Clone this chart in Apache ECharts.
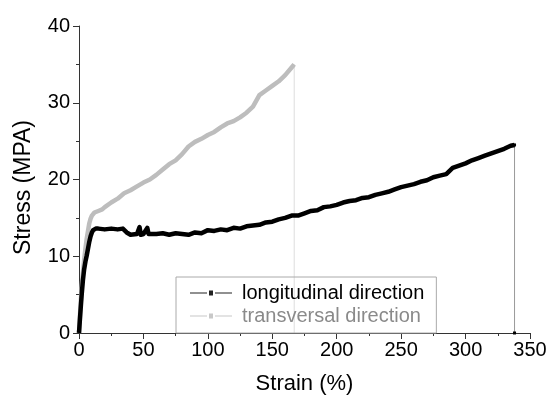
<!DOCTYPE html>
<html><head><meta charset="utf-8">
<script src="https://cdn.jsdelivr.net/npm/echarts@6/dist/echarts.min.js"></script>
<style>html,body{margin:0;padding:0;background:#fff}#c{width:550px;height:400px}</style>
</head><body><div id="c"></div>
<script>
var seriesNames = ['longitudinal direction', 'transversal direction'];
var longitudinal = [[0,0],[1,2.5],[2,4.8],[3,6.8],[4,8.3],[5,9.3],[6,10.1],[7,11],[8,11.9],[9,12.6],[10,13.1],[11,13.4],[13,13.6],[15,13.6],[20,13.5],[25,13.6],[30,13.5],[34,13.6],[37,13.1],[40,12.8],[45,12.9],[47,13.8],[48,12.8],[50,12.9],[53,13.7],[54,12.9],[55,13.0],[60,12.9],[65,13.0],[70,12.8],[75,13.0],[80,12.9],[85,12.8],[90,13.1],[95,13.0],[100,13.4],[105,13.3],[110,13.5],[115,13.4],[120,13.7],[125,13.6],[130,13.9],[135,14.0],[140,14.1],[145,14.4],[150,14.5],[155,14.8],[160,15.0],[165,15.3],[170,15.3],[175,15.6],[180,15.9],[185,16.0],[190,16.4],[195,16.5],[200,16.7],[205,17.0],[210,17.2],[215,17.3],[220,17.6],[225,17.7],[230,18.0],[235,18.2],[240,18.4],[245,18.7],[250,19.0],[255,19.2],[260,19.4],[265,19.7],[270,19.9],[275,20.3],[280,20.5],[285,20.7],[290,21.5],[295,21.8],[300,22.1],[305,22.5],[310,22.8],[315,23.1],[320,23.4],[325,23.7],[330,24.0],[335,24.4],[338,24.5]];
var transversal = [[0,0],[1,3],[2,5.8],[3,7.8],[4,9.5],[5,11],[6,12.3],[7,13.3],[8,14.3],[9,14.9],[10,15.3],[12,15.7],[15,15.9],[18,16.1],[20,16.4],[25,17.0],[30,17.5],[35,18.2],[40,18.6],[45,19.1],[50,19.6],[55,20.0],[60,20.6],[65,21.3],[70,22.0],[75,22.5],[80,23.3],[85,24.3],[90,24.9],[95,25.3],[100,25.8],[105,26.2],[110,26.8],[115,27.3],[120,27.6],[125,28.1],[130,28.7],[135,29.5],[140,31.0],[145,31.6],[150,32.2],[155,32.8],[160,33.6],[165,34.6],[167,35.0]];
var xTicks = [0,50,100,150,200,250,300,350];
var yTicks = [0,10,20,30,40];

function dropOf(arr){ var p = arr[arr.length-1]; return [[p[0],p[1]],[p[0],0]]; }
var font = 'Arial, "Liberation Sans", sans-serif';
var icon = 'path://M0,3.5h17v1h-17z M19,1.5h4v5h-4z M25,3.5h17v1h-17z';

var chart = echarts.init(document.getElementById('c'), null, {renderer:'canvas'});
chart.setOption({
  animation:false,
  backgroundColor:'#fff',
  grid:{left:79, right:20, top:26, bottom:65},
  xAxis:{type:'value', min:xTicks[0], max:xTicks[xTicks.length-1], interval:50,
    name:'Strain (%)', nameLocation:'middle', nameGap:40,
    nameTextStyle:{fontFamily:font, fontSize:22, color:'#000'},
    axisLine:{lineStyle:{color:'#333', width:1}},
    axisTick:{show:true, inside:false, length:6, lineStyle:{color:'#333'}},
    minorTick:{show:true, splitNumber:2, length:3, lineStyle:{color:'#333'}},
    axisLabel:{fontFamily:font, fontSize:20, color:'#000', margin:7},
    splitLine:{show:false}},
  yAxis:{type:'value', min:yTicks[0], max:yTicks[yTicks.length-1], interval:10,
    name:'Stress (MPA)', nameLocation:'middle', nameGap:44, nameRotate:90,
    nameTextStyle:{fontFamily:font, fontSize:23, color:'#000', padding:[0,16,0,0]},
    axisLine:{show:true, lineStyle:{color:'#333', width:1}},
    axisTick:{show:true, inside:false, length:6, lineStyle:{color:'#333'}},
    minorTick:{show:true, splitNumber:2, length:3, lineStyle:{color:'#333'}},
    axisLabel:{fontFamily:font, fontSize:20, color:'#000', margin:9},
    splitLine:{show:false}},
  legend:{orient:'vertical', left:176, top:277, padding:[6,12,7,14], itemGap:3,
    itemWidth:42, itemHeight:8, borderColor:'#aaa', borderWidth:1,
    textStyle:{fontFamily:font, fontSize:20, padding:[0,0,0,5]},
    data:[
      {name:seriesNames[0], icon:icon, itemStyle:{color:'#222'}, textStyle:{color:'#000'}},
      {name:seriesNames[1], icon:icon, itemStyle:{color:'#c8c8c8'}, textStyle:{color:'#8a8a8a'}}
    ]},
  series:[
    {name:'drop1', type:'line', data:dropOf(transversal), symbol:'none', silent:true,
      lineStyle:{color:'#ddd', width:1}, z:1},
    {name:'drop2', type:'line', data:dropOf(longitudinal), symbol:['none','rect'], symbolSize:3, silent:true,
      showSymbol:true, itemStyle:{color:'#000'}, lineStyle:{color:'#999', width:1}, z:1},
    {name:seriesNames[1], type:'line', data:transversal, symbol:'none', smooth:false,
      lineStyle:{color:'#bdbdbd', width:4.5, join:'round'}, itemStyle:{color:'#bdbdbd'}, z:2},
    {name:seriesNames[0], type:'line', data:longitudinal, symbol:'none', smooth:false,
      lineStyle:{color:'#000', width:4.5, join:'round'}, itemStyle:{color:'#000'}, z:3}
  ]
});
</script></body></html>
